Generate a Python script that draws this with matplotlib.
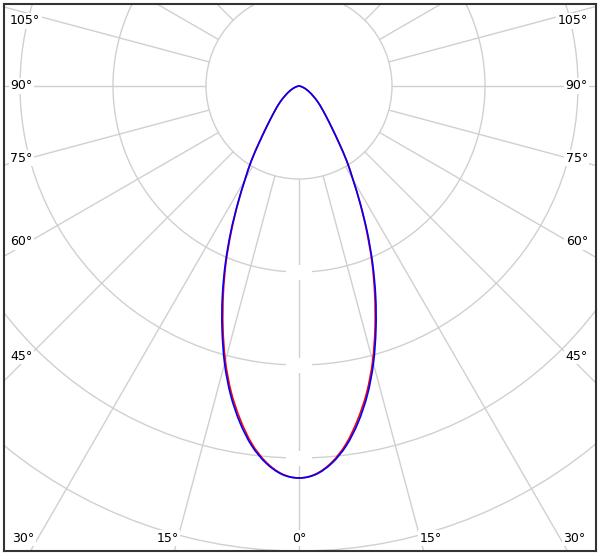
import numpy as np
import matplotlib
matplotlib.use("Agg")
import matplotlib.pyplot as plt
from matplotlib.patches import Circle, Rectangle, PathPatch
from matplotlib.path import Path

# ---- data (intensity vs. angle from nadir, one half-plane, mirrored) ----
angles = [0, 2.5, 5, 7.5, 10, 12.5, 15, 17.5, 20, 22.5, 25, 27.5, 30, 32.5, 35,
          37.5, 40, 45, 50, 55, 60, 65, 70, 75, 80, 85, 90]
blue_vals = [421.5, 418, 407, 390, 367, 340, 309, 275, 241, 207, 174, 143, 116, 95, 75,
             60, 49.5, 35.5, 26, 18.3, 12.9, 8.6, 5.4, 2.7, 1.1, 0.3, 0]
red_vals = [421.5, 417.5, 406, 388, 364, 337, 306, 272, 238, 205, 172, 142, 116, 96, 76,
            61, 50, 35.5, 26, 18.3, 12.9, 8.6, 5.4, 2.7, 1.1, 0.3, 0]

grid_rings = [100, 200, 300, 400, 500, 600, 700]
spoke_angles = list(range(0, 360, 15))
side_labels = [105, 90, 75, 60, 45]
bottom_labels = [-30, -15, 0, 15, 30]
blank_label_rings = [200, 300, 400]

# ---- figure geometry ----
W, H = 600, 555
fig = plt.figure(figsize=(W / 100, H / 100), dpi=100)
L, R, T, B = 4, 596, 4, 551          # frame in pixels
cx, cy = 299, 86                      # pole in pixels
k = 0.93                              # pixels per intensity unit
ax = fig.add_axes([L / W, (H - B) / H, (R - L) / W, (B - T) / H])
ax.set_xlim((L - cx) / k, (R - cx) / k)
ax.set_ylim(-(B - cy) / k, (cy - T) / k)
ax.set_xticks([])
ax.set_yticks([])
for s in ax.spines.values():
    s.set_color("#333333")
    s.set_linewidth(1.5)

grid_color = "#d0d0d0"
for r in grid_rings:
    ax.add_patch(Circle((0, 0), r, fill=False, ec=grid_color, lw=1.0, zorder=1))
r0 = grid_rings[0]
for a in spoke_angles:
    t = np.radians(a)
    ax.plot([r0 * np.sin(t), 900 * np.sin(t)], [-r0 * np.cos(t), -900 * np.cos(t)],
            color=grid_color, lw=1.0, zorder=1, solid_capstyle="butt")

# blank intensity label boxes on the 0° spoke
for r in blank_label_rings:
    ax.add_patch(Rectangle((-13 / k, -r - 7.5 / k), 26 / k, 15 / k,
                           fc="white", ec="none", zorder=2))


def smooth_path(vals):
    """Closed polar curve through the data points, drawn as Catmull-Rom Bezier."""
    th = np.radians(np.concatenate([-np.array(angles[::-1]), np.array(angles[1:])]))
    v = np.concatenate([np.array(vals[::-1], float), np.array(vals[1:], float)])
    P = np.column_stack([v * np.sin(th), -v * np.cos(th)])
    n = len(P)
    verts = [P[0]]
    codes = [Path.MOVETO]
    for i in range(n - 1):
        p0 = P[i - 1] if i > 0 else P[i]
        p1, p2 = P[i], P[i + 1]
        p3 = P[i + 2] if i + 2 < n else P[i + 1]
        c1 = p1 + (p2 - p0) / 6.0
        c2 = p2 - (p3 - p1) / 6.0
        verts += [c1, c2, p2]
        codes += [Path.CURVE4] * 3
    return Path(np.array(verts), codes)


ax.add_patch(PathPatch(smooth_path(red_vals), fill=False, ec="#ff0000", lw=1.2, zorder=3))
ax.add_patch(PathPatch(smooth_path(blue_vals), fill=False, ec="#0000ff", lw=1.2, zorder=4))

bbox = dict(fc="white", ec="none", pad=1.0)
fs = 9
# side labels
for a in side_labels:
    t = np.radians(a)
    dx = 270 / k
    y = -np.cos(t) / np.sin(t) * dx
    y = min(y, (cy - 21) / k)
    ax.text((10 - cx) / k, y, f"{a}°", ha="left", va="center", fontsize=fs,
            bbox=bbox, zorder=5)
    ax.text((588 - cx) / k, y, f"{a}°", ha="right", va="center", fontsize=fs,
            bbox=bbox, zorder=5)
# bottom labels
for a in bottom_labels:
    t = np.radians(a)
    xe = np.tan(t) * (B - cy) / k + np.sign(a) * 7 / k
    ax.text(xe, -(538 - cy) / k, f"{abs(a)}°", ha="center", va="center",
            fontsize=fs, bbox=bbox, zorder=5)

fig.savefig("out.png", dpi=100, facecolor="white")
